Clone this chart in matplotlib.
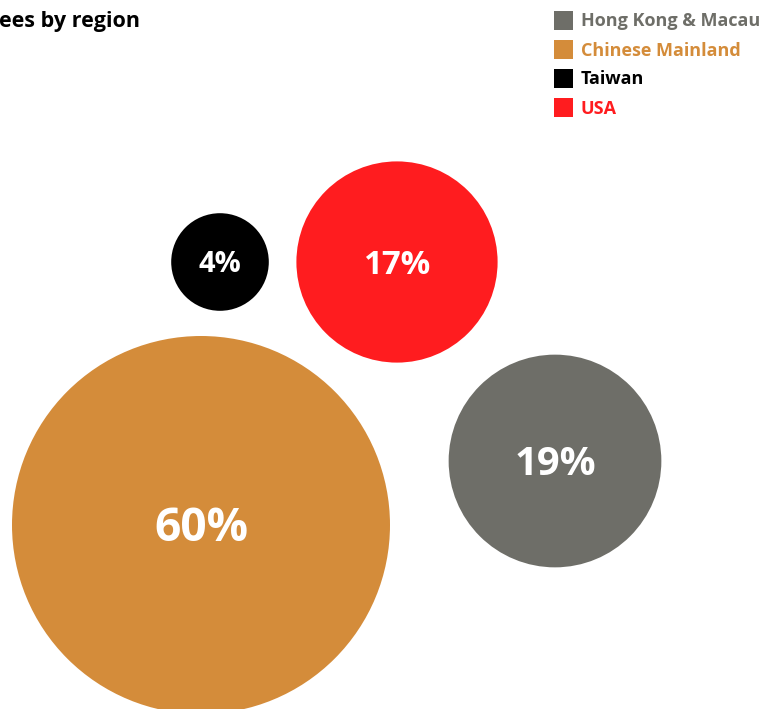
import numpy as np
import matplotlib
matplotlib.use('Agg')
import matplotlib.pyplot as plt
from matplotlib.patches import Circle, Rectangle

# data
regions = ['Hong Kong & Macau', 'Chinese Mainland', 'Taiwan', 'USA']
shares = [19, 60, 4, 17]
colors = ['#6e6e68', '#d48c3a', '#000000', '#ff1c1f']

# bubble layout (pixel positions of centres) and label sizes in px
centre_x = [555, 201, 220, 397]
centre_y = [461, 525, 262, 262]
label_px = [40, 46, 29, 33]

W, H = 775, 709
plt.rcParams['font.family'] = ['Open Sans', 'DejaVu Sans']

fig = plt.figure(figsize=(W / 100, H / 100), dpi=100)
ax = fig.add_axes([0, 0, 1, 1])
ax.set_xlim(0, W)
ax.set_ylim(H, 0)
ax.axis('off')

def px(v):
    # pixel size -> points
    return v * 0.72

# sqrt radius scale
r_max = 189
k = r_max / np.sqrt(max(shares))

for name, v, c, x, y, fs in zip(regions, shares, colors, centre_x, centre_y, label_px):
    r = k * np.sqrt(v)
    ax.add_patch(Circle((x, y), r, color=c, lw=0))
    ax.text(x, y + 0.357 * fs, '%d%%' % v, color='white', fontsize=px(fs),
            fontweight='bold', ha='center', va='baseline')

# title (cut off at left edge in the original)
ax.text(-1, 27, 'ees by region', fontsize=px(21.5), fontweight='bold',
        color='black', ha='left', va='baseline')

# legend
for i, (name, c) in enumerate(zip(regions, colors)):
    yy = 20 + i * 29
    ax.add_patch(Rectangle((554, yy - 9.5), 19, 19, color=c, lw=0))
    ax.text(581, yy + 6.5, name, color=c, fontsize=px(18), fontweight='bold',
            ha='left', va='baseline')

fig.savefig('out.png', dpi=100)
